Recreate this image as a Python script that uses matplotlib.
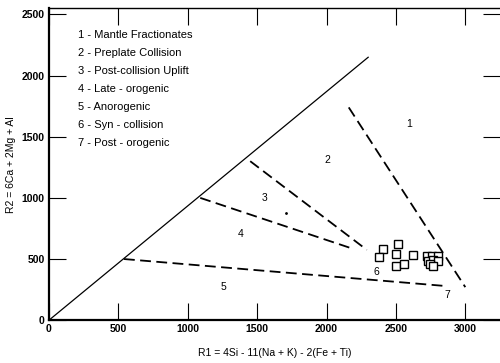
import matplotlib
matplotlib.use('Agg')
import matplotlib.pyplot as plt

plt.rcParams['font.family'] = ['Liberation Sans', 'DejaVu Sans']

# boundary lines (R1, R2)
diag_x = [0, 2300]
diag_y = [0, 2150]
bounds = [
    ([540, 2850], [500, 280]),
    ([1090, 2200], [1000, 580]),
    ([1450, 2290], [1300, 575]),
    ([2160, 3000], [1740, 270]),
]

# samples
r1 = [2410, 2516, 2381, 2504, 2626, 2499, 2559,
      2722, 2760, 2801, 2729, 2765, 2806, 2746, 2770]
r2 = [586, 619, 515, 540, 529, 447, 461,
      526, 526, 526, 482, 490, 482, 461, 442]

field_ids = ['1', '2', '3', '4', '5', '6', '7']
field_x = [2597, 2007, 1554, 1381, 1259, 2357, 2870]
field_y = [1604, 1307, 1003, 707, 271, 390, 206]

legend_lines = ['1 - Mantle Fractionates', '2 - Preplate Collision',
                '3 - Post-collision Uplift', '4 - Late - orogenic',
                '5 - Anorogenic', '6 - Syn - collision', '7 - Post - orogenic']

fig = plt.figure(figsize=(5, 3.63), dpi=100)
ax = fig.add_axes([0.098, 0.118, 0.902, 0.859])

ax.plot(diag_x, diag_y, color='black', lw=0.9)
for bx, by in bounds:
    ax.plot(bx, by, color='black', lw=1.3, dashes=(6, 3))

ax.plot(r1, r2, 's', mfc='white', mec='black', ms=5.5, mew=1.0, ls='none')
ax.plot([1710], [880], '.', color='black', ms=2)

for t, x, y in zip(field_ids, field_x, field_y):
    ax.text(x, y, t, fontsize=7.5, ha='center', va='center')

for i, s in enumerate(legend_lines):
    ax.text(0.064, 0.915 - i * 0.0578, s, transform=ax.transAxes,
            fontsize=8, va='center', ha='left')

ax.set_xlim(0, 3250)
ax.set_ylim(0, 2550)
ax.set_xticks([0, 500, 1000, 1500, 2000, 2500, 3000])
ax.set_yticks([0, 500, 1000, 1500, 2000, 2500])
ax.tick_params(direction='in', length=12, width=0.8, labelsize=7.5,
               top=True, right=True, pad=3)
for lab in ax.get_xticklabels() + ax.get_yticklabels():
    lab.set_fontweight('bold')
for sp in ['left', 'bottom']:
    ax.spines[sp].set_linewidth(1.6)
ax.spines['top'].set_linewidth(1.0)
ax.spines['right'].set_visible(False)

ax.set_xlabel('R1 = 4Si - 11(Na + K) - 2(Fe + Ti)', fontsize=7.5, labelpad=10)
ax.set_ylabel('R2 = 6Ca + 2Mg + Al', fontsize=7.5, labelpad=4)

plt.savefig('out.png', dpi=100)
